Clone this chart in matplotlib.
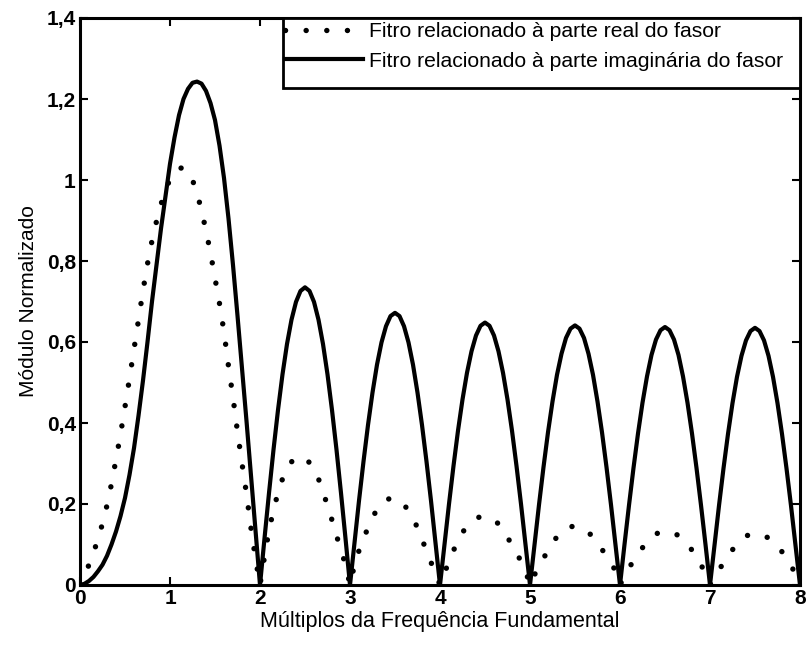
import numpy as np
import matplotlib
matplotlib.use("Agg")
import matplotlib.pyplot as plt
from matplotlib.patches import Rectangle

plt.rcParams['font.family'] = ['Liberation Sans', 'DejaVu Sans']

# sampling grid of the frequency axis (multiples of fundamental)
x_grid = np.linspace(0, 8, 161)

# Filter related to the real part of the phasor (dotted)
real_part = [
    0.000, 0.025, 0.050, 0.080, 0.113, 0.152, 0.197, 0.250, 0.310, 0.372,
    0.440, 0.510, 0.582, 0.655, 0.727, 0.793, 0.850, 0.898, 0.940, 0.975,
    1.002, 1.020, 1.029, 1.030, 1.022, 1.000, 0.968, 0.925, 0.875, 0.820,
    0.757, 0.695, 0.625, 0.540, 0.463, 0.378, 0.300, 0.225, 0.140, 0.065,
    0.000,
    0.070, 0.135, 0.185, 0.228, 0.262, 0.287, 0.304, 0.314, 0.317, 0.313,
    0.302, 0.286, 0.262, 0.230, 0.196, 0.160, 0.122, 0.086, 0.050, 0.000,
    0.050, 0.085, 0.115, 0.141, 0.165, 0.188, 0.202, 0.210, 0.214, 0.214,
    0.209, 0.198, 0.184, 0.165, 0.141, 0.113, 0.084, 0.056, 0.028, 0.000,
    0.030, 0.058, 0.085, 0.110, 0.130, 0.144, 0.156, 0.164, 0.169, 0.169,
    0.166, 0.160, 0.151, 0.137, 0.118, 0.098, 0.080, 0.058, 0.035, 0.000,
    0.025, 0.047, 0.066, 0.085, 0.104, 0.119, 0.131, 0.140, 0.144, 0.145,
    0.143, 0.138, 0.130, 0.118, 0.104, 0.088, 0.071, 0.054, 0.035, 0.000,
    0.022, 0.042, 0.060, 0.076, 0.092, 0.106, 0.117, 0.126, 0.131, 0.132,
    0.131, 0.128, 0.122, 0.113, 0.100, 0.086, 0.069, 0.050, 0.028, 0.000,
    0.018, 0.037, 0.055, 0.072, 0.087, 0.101, 0.113, 0.121, 0.125, 0.127,
    0.126, 0.122, 0.116, 0.107, 0.096, 0.082, 0.064, 0.046, 0.030, 0.015,
]

# Filter related to the imaginary part of the phasor (solid)
imag_part = [
    0.000, 0.003, 0.010, 0.020, 0.034, 0.050, 0.072, 0.100, 0.132, 0.170,
    0.215, 0.272, 0.338, 0.418, 0.505, 0.600, 0.700, 0.790, 0.880, 0.960,
    1.040, 1.105, 1.160, 1.200, 1.225, 1.240, 1.243, 1.238, 1.220, 1.190,
    1.148, 1.085, 1.005, 0.905, 0.790, 0.665, 0.535, 0.405, 0.270, 0.135,
    0.000,
    0.115, 0.227, 0.334, 0.432, 0.520, 0.595, 0.655, 0.699, 0.726, 0.735,
    0.726, 0.699, 0.655, 0.595, 0.520, 0.432, 0.334, 0.227, 0.115, 0.000,
    0.105, 0.208, 0.305, 0.395, 0.475, 0.544, 0.599, 0.639, 0.664, 0.672,
    0.664, 0.639, 0.599, 0.544, 0.475, 0.395, 0.305, 0.208, 0.105, 0.000,
    0.101, 0.200, 0.294, 0.381, 0.458, 0.524, 0.577, 0.616, 0.640, 0.648,
    0.640, 0.616, 0.577, 0.524, 0.458, 0.381, 0.294, 0.200, 0.101, 0.000,
    0.100, 0.198, 0.291, 0.377, 0.453, 0.519, 0.571, 0.610, 0.633, 0.641,
    0.633, 0.610, 0.571, 0.519, 0.453, 0.377, 0.291, 0.198, 0.100, 0.000,
    0.100, 0.197, 0.289, 0.374, 0.450, 0.515, 0.568, 0.606, 0.629, 0.637,
    0.629, 0.606, 0.568, 0.515, 0.450, 0.374, 0.289, 0.197, 0.100, 0.000,
    0.099, 0.196, 0.288, 0.373, 0.449, 0.514, 0.566, 0.604, 0.627, 0.635,
    0.627, 0.604, 0.566, 0.514, 0.449, 0.373, 0.288, 0.196, 0.099, 0.000,
]

x_ticks = [0, 1, 2, 3, 4, 5, 6, 7, 8]
x_tick_labels = ["0", "1", "2", "3", "4", "5", "6", "7", "8"]
y_ticks = [0, 0.2, 0.4, 0.6, 0.8, 1.0, 1.2, 1.4]
y_tick_labels = ["0", "0,2", "0,4", "0,6", "0,8", "1", "1,2", "1,4"]

label_real = "Fitro relacionado à parte real do fasor"
label_imag = "Fitro relacionado à parte imaginária do fasor"
x_label = "Múltiplos da Frequência Fundamental"
y_label = "Módulo Normalizado"

W, H = 806, 646
fig = plt.figure(figsize=(W / 100, H / 100), dpi=100)
ax_l, ax_r, ax_t, ax_b = 80, 800, 18, 585
ax = fig.add_axes([ax_l / W, (H - ax_b) / H, (ax_r - ax_l) / W, (ax_b - ax_t) / H])

ax.plot(x_grid, real_part, color="black", linewidth=3.9,
        linestyle=(0, (0.01, 3.8)), dash_capstyle="round",
        label=label_real)
ax.plot(x_grid, imag_part, color="black", linewidth=3.0,
        solid_joinstyle="round", label=label_imag)

ax.set_xlim(0, 8)
ax.set_ylim(0, 1.4)
ax.set_xticks(x_ticks)
ax.set_xticklabels(x_tick_labels)
ax.set_yticks(y_ticks)
ax.set_yticklabels(y_tick_labels)

for lab in ax.get_xticklabels() + ax.get_yticklabels():
    lab.set_fontweight("bold")
    lab.set_fontsize(15)

ax.tick_params(direction="in", length=6, width=1.5, top=True, right=True,
               pad=3)
for sp in ax.spines.values():
    sp.set_linewidth(2.2)

ax.set_xlabel(x_label, fontsize=15.5, labelpad=2)
ax.set_ylabel(y_label, fontsize=15, labelpad=6)

# legend box (MATLAB-like, flush with the top-right corner)
box_l, box_b = 283, 88
ax.add_patch(Rectangle(((box_l - ax_l) / (ax_r - ax_l), (ax_b - box_b) / (ax_b - ax_t)),
                       1 - (box_l - ax_l) / (ax_r - ax_l), (box_b - ax_t) / (ax_b - ax_t),
                       transform=ax.transAxes, facecolor="white", edgecolor="black",
                       linewidth=2.0, zorder=4, clip_on=False))
leg = ax.legend(loc="upper left",
                bbox_to_anchor=((285 - ax_l) / (ax_r - ax_l), 1 - 4 / (ax_b - ax_t)),
                borderaxespad=0, borderpad=0, fontsize=15.2, frameon=False,
                handlelength=3.7, handletextpad=0.28, labelspacing=0.5)
leg.set_zorder(5)

fig.savefig("out.png", dpi=100)
